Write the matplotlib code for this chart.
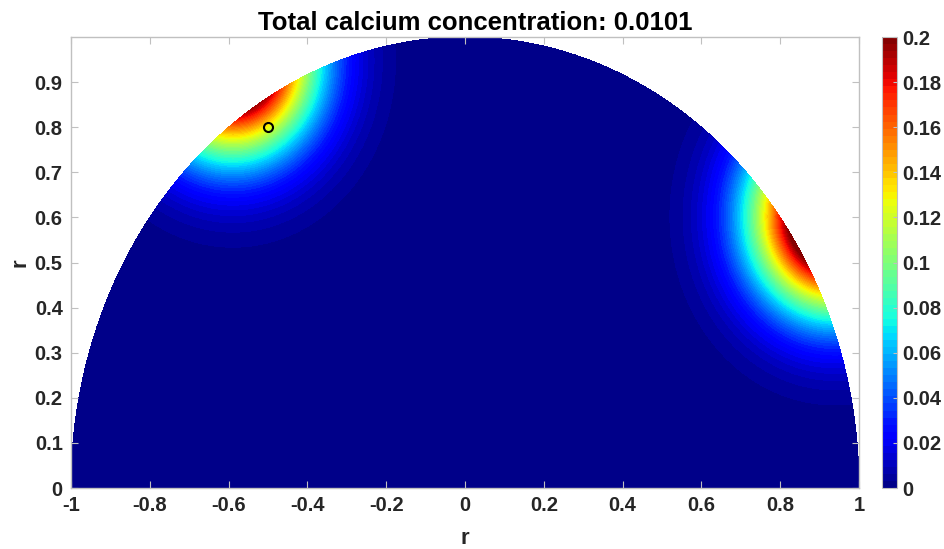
import numpy as np
import matplotlib
matplotlib.use("Agg")
import matplotlib.pyplot as plt

plt.rcParams['font.family'] = ['Liberation Sans', 'DejaVu Sans']
plt.rcParams['font.weight'] = 'bold'

title_text = "Total calcium concentration: 0.0101"
x_ticks = [-1, -0.8, -0.6, -0.4, -0.2, 0, 0.2, 0.4, 0.6, 0.8, 1]
y_ticks = [0, 0.1, 0.2, 0.3, 0.4, 0.5, 0.6, 0.7, 0.8, 0.9]
c_ticks = [0, 0.02, 0.04, 0.06, 0.08, 0.1, 0.12, 0.14, 0.16, 0.18, 0.2]

# calcium entry sites just outside the membrane: angle (deg),
# concentration reached on the membrane, distance outside the rim, spread
site_angle = [121.9, 32.7]
site_peak = [0.193, 0.205]
site_offset = [0.115, 0.115]
site_width = [0.138, 0.139]

probe_xy = (-0.5, 0.8)

r = np.linspace(0, 1, 400)
th = np.linspace(0, np.pi, 1000)
R, TH = np.meshgrid(r, th)
X = R * np.cos(TH)
Y = R * np.sin(TH)

C = np.zeros_like(X)
for a, peak, h, s in zip(site_angle, site_peak, site_offset, site_width):
    a0 = np.deg2rad(a)
    cx, cy = (1 + h) * np.cos(a0), (1 + h) * np.sin(a0)
    amp = peak * np.exp(h ** 2 / (2 * s ** 2))
    C += amp * np.exp(-((X - cx) ** 2 + (Y - cy) ** 2) / (2 * s ** 2))
C = np.clip(C, 0, 0.2)

fig = plt.figure(figsize=(9.45, 5.49), dpi=100)
ax = fig.add_axes([0.0751, 0.111, 0.8339, 0.8216])
cax = fig.add_axes([0.9333, 0.111, 0.0159, 0.8216])

levels = np.linspace(0, 0.2, 65)
cf = ax.contourf(X, Y, C, levels=levels, cmap='jet', vmin=0, vmax=0.2)
ax.plot(*probe_xy, marker='o', ms=6.5, mfc='none', mec='black', mew=1.5)

ax.set_xlim(-1, 1)
ax.set_ylim(0, 1)
ax.set_xticks(x_ticks)
ax.set_xticklabels([f"{v:g}" for v in x_ticks])
ax.set_yticks(y_ticks)
ax.set_yticklabels([f"{v:g}" for v in y_ticks])

grey = '#c0c0c0'
txt = '#262626'
for s in ax.spines.values():
    s.set_color(grey)
    s.set_linewidth(1.0)
ax.tick_params(direction='in', length=5, color=grey, labelsize=14.5,
               labelcolor=txt, top=True, right=True, pad=6)
for lab in ax.get_xticklabels() + ax.get_yticklabels():
    lab.set_fontweight('bold')

ax.set_xlabel('r', fontsize=16, fontweight='bold', color=txt, labelpad=9)
ax.set_ylabel('r', fontsize=16, fontweight='bold', color=txt, labelpad=3)
ax.set_title(title_text, fontsize=18.5, fontweight='bold', color='black',
             pad=5, x=0.513)

cb = fig.colorbar(cf, cax=cax, ticks=c_ticks)
cb.ax.set_yticklabels([f"{v:g}" for v in c_ticks])
cb.outline.set_edgecolor(grey)
cb.ax.tick_params(direction='in', length=3, color=grey, labelsize=14.5,
                  labelcolor=txt, pad=4)
for lab in cb.ax.get_yticklabels():
    lab.set_fontweight('bold')

fig.savefig('out.png', dpi=100)
